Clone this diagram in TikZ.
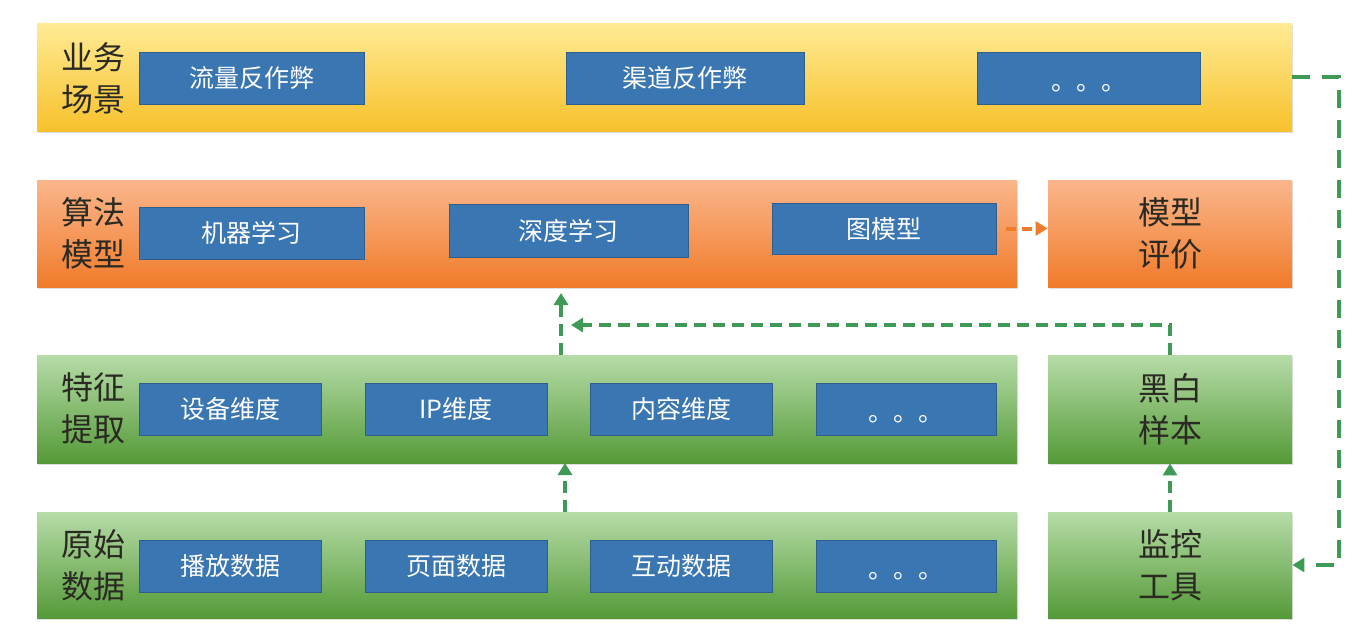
\documentclass[tikz,border=0pt]{standalone}
\usepackage{fontspec}
\newfontfamily\cjk{Noto Sans CJK SC}
\usetikzlibrary{fit,arrows.meta,shadows}
\definecolor{yelT}{HTML}{FFEB94}
\definecolor{yelB}{HTML}{F7C12C}
\definecolor{orT}{HTML}{FBB68C}
\definecolor{orB}{HTML}{F07B2A}
\definecolor{grT}{HTML}{B6DCA8}
\definecolor{grB}{HTML}{559A38}
\definecolor{blueBox}{HTML}{3A76B2}
\definecolor{dashGreen}{HTML}{3F9A55}
\definecolor{dashOrange}{HTML}{F07B2A}
\definecolor{labelText}{HTML}{2A2A22}
\tikzset{
  band/.style={inner sep=0pt, draw=none, drop shadow={shadow xshift=0.6pt,shadow yshift=-0.8pt,opacity=0.25}},
  yband/.style={band, top color=yelT, bottom color=yelB},
  oband/.style={band, top color=orT, bottom color=orB},
  gband/.style={band, top color=grT, bottom color=grB},
  bluebox/.style={inner sep=0pt, fill=blueBox, draw=blueBox!80!black, line width=0.4pt},
  boxtext/.style={text=white, inner sep=0pt, font=\cjk\fontsize{12.5}{14}\selectfont},
  sidelabel/.style={align=center, text=labelText, font=\cjk\fontsize{16}{21}\selectfont, inner sep=0pt},
  flow/.style={dashGreen, line width=2pt, dash pattern=on 6pt off 3.5pt, -{Triangle[length=6pt,width=7pt]}},
  longflow/.style={flow, dash pattern=on 9pt off 6pt},
  oflow/.style={dashOrange, line width=2pt, dash pattern=on 5pt off 3pt, -{Triangle[length=6pt,width=7pt]}},
}
\begin{document}
\begin{tikzpicture}[x=0.5pt,y=-0.5pt]
\useasboundingbox (0,0) rectangle (1353,639);
% bands
\node[yband, fit={(37,23)(1292,131)}] (biz) {};
\node[oband, fit={(37,180)(1017,287)}] (algo) {};
\node[oband, fit={(1048,180)(1292,287)}] (eval) {};
\node[gband, fit={(37,355)(1017,463)}] (feat) {};
\node[gband, fit={(1048,355)(1292,463)}] (sample) {};
\node[gband, fit={(37,512)(1017,618)}] (raw) {};
\node[gband, fit={(1048,512)(1292,618)}] (mon) {};
% side labels
\node[sidelabel] (lbiz) at (93,78) {业务\\场景};
\node[sidelabel] (lalgo) at (93,233) {算法\\模型};
\node[sidelabel] (lfeat) at (93,408) {特征\\提取};
\node[sidelabel] (lraw) at (93,565) {原始\\数据};
\node[sidelabel] (leval) at (eval.center) {模型\\评价};
\node[sidelabel] (lsample) at (sample.center) {黑白\\样本};
\node[sidelabel] (lmon) at (mon.center) {监控\\工具};
% blue boxes row 1
\node[bluebox, fit={(139,52)(364,104)}] (b11) {};
\node[boxtext] (t11) at (b11.center) {流量反作弊};
\node[bluebox, fit={(566,52)(804,104)}] (b12) {};
\node[boxtext] (t12) at (b12.center) {渠道反作弊};
\node[bluebox, fit={(977,52)(1200,104)}] (b13) {};
\node[boxtext, anchor=base] (t13) at ([yshift=-6pt]b13.center) {。。。};
% row 2
\node[bluebox, fit={(139,207)(364,259)}] (b21) {};
\node[boxtext] (t21) at (b21.center) {机器学习};
\node[bluebox, fit={(449,204)(688,257)}] (b22) {};
\node[boxtext] (t22) at (b22.center) {深度学习};
\node[bluebox, fit={(772,203)(996,254)}] (b23) {};
\node[boxtext] (t23) at (b23.center) {图模型};
% row 3
\node[bluebox, fit={(139,383)(321,435)}] (b31) {};
\node[boxtext] (t31) at (b31.center) {设备维度};
\node[bluebox, fit={(365,383)(547,435)}] (b32) {};
\node[boxtext] (t32) at (b32.center) {IP维度};
\node[bluebox, fit={(590,383)(772,435)}] (b33) {};
\node[boxtext] (t33) at (b33.center) {内容维度};
\node[bluebox, fit={(816,383)(996,435)}] (b34) {};
\node[boxtext, anchor=base] (t34) at ([yshift=-6pt]b34.center) {。。。};
% row 4
\node[bluebox, fit={(139,540)(321,592)}] (b41) {};
\node[boxtext] (t41) at (b41.center) {播放数据};
\node[bluebox, fit={(365,540)(547,592)}] (b42) {};
\node[boxtext] (t42) at (b42.center) {页面数据};
\node[bluebox, fit={(590,540)(772,592)}] (b43) {};
\node[boxtext] (t43) at (b43.center) {互动数据};
\node[bluebox, fit={(816,540)(996,592)}] (b44) {};
\node[boxtext, anchor=base] (t44) at ([yshift=-6pt]b44.center) {。。。};
% connectors
\coordinate (ftop) at (561,355);
\coordinate (abot) at (561,293);
\coordinate (rtop) at (565,512);
\coordinate (fbot) at (565,463);
\coordinate (corner1) at (1170,325);
\coordinate (join1) at (561,325);
\coordinate (corner2) at (1339,77);
\coordinate (corner3) at (1339,565);
\draw[oflow] ([xshift=5pt]b23.east) -- (eval.west |- b23.east);
\draw[flow] (rtop) -- (fbot);
\draw[flow] (ftop) -- (abot);
\draw[flow] (sample.north) -- (corner1) -- ([xshift=5pt]join1);
\draw[flow] (mon.north) -- (sample.south);
\draw[longflow] (biz.east |- corner2) -- (corner2) -- (corner3) -- (mon.east |- corner3);
\end{tikzpicture}
\end{document}
